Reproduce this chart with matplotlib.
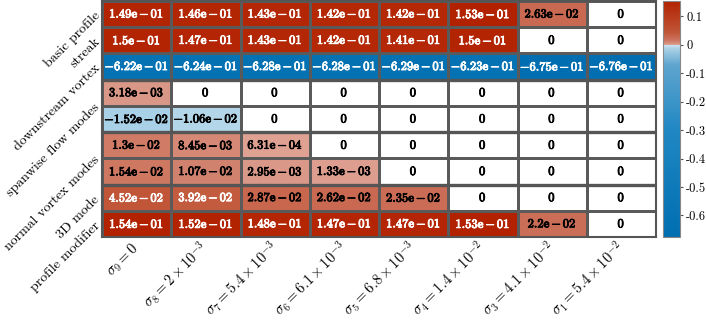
import numpy as np
import matplotlib
matplotlib.use("Agg")
import matplotlib.pyplot as plt
import matplotlib.patheffects as pe
from matplotlib.colors import LinearSegmentedColormap, Normalize

plt.rcParams['mathtext.fontset'] = 'cm'
plt.rcParams['axes.unicode_minus'] = False

# ---------------- data ----------------
col_labels = [r"$\sigma_9 = 0$", r"$\sigma_8 = 2\times10^{-3}$", r"$\sigma_7 = 5.4\times10^{-3}$",
              r"$\sigma_6 = 6.1\times10^{-3}$", r"$\sigma_5 = 6.8\times10^{-3}$",
              r"$\sigma_4 = 1.4\times10^{-2}$", r"$\sigma_3 = 4.1\times10^{-2}$",
              r"$\sigma_1 = 5.4\times10^{-2}$"]

# group labels and the number of rows each spans
group_labels = ["basic profile", "streak", "downstream vortex", "spanwise flow modes",
                "normal vortex modes", "3D mode", "profile modifier"]
group_sizes = [1, 1, 1, 2, 2, 1, 1]
thick_after = [3, 5, 7]   # thick separators after these rows

row_basic = [1.49e-01, 1.46e-01, 1.43e-01, 1.42e-01, 1.42e-01, 1.53e-01, 2.63e-02, 0]
row_streak = [1.5e-01, 1.47e-01, 1.43e-01, 1.42e-01, 1.41e-01, 1.5e-01, 0, 0]
row_vortex = [-6.22e-01, -6.24e-01, -6.28e-01, -6.28e-01, -6.29e-01, -6.23e-01, -6.75e-01, -6.76e-01]
row_span1 = [3.18e-03, 0, 0, 0, 0, 0, 0, 0]
row_span2 = [-1.52e-02, -1.06e-02, 0, 0, 0, 0, 0, 0]
row_norm1 = [1.3e-02, 8.45e-03, 6.31e-04, 0, 0, 0, 0, 0]
row_norm2 = [1.54e-02, 1.07e-02, 2.95e-03, 1.33e-03, 0, 0, 0, 0]
row_3d = [4.52e-02, 3.92e-02, 2.87e-02, 2.62e-02, 2.35e-02, 0, 0, 0]
row_mod = [1.54e-01, 1.52e-01, 1.48e-01, 1.47e-01, 1.47e-01, 1.53e-01, 2.2e-02, 0]

data = np.array([row_basic, row_streak, row_vortex, row_span1, row_span2,
                 row_norm1, row_norm2, row_3d, row_mod])

cbar_ticks = [0.1, 0, -0.1, -0.2, -0.3, -0.4, -0.5, -0.6]

# ---------------- colormap ----------------
vmin, vmax = data.min(), data.max()
def pos(v):
    return (v - vmin) / (vmax - vmin)

eps = 0.0002
nodes = [
    (0.0, (0, 110, 176)),
    (pos(-0.3), (32, 135, 195)),
    (pos(-0.07), (95, 165, 207)),
    (pos(-0.015), (168, 208, 230)),
    (pos(0) - 2 * eps, (205, 228, 241)),
    (pos(0) - eps, (255, 255, 255)),
    (pos(0) + eps, (255, 255, 255)),
    (pos(0) + 2 * eps, (224, 162, 148)),
    (pos(0.003), (217, 152, 136)),
    (pos(0.013), (207, 123, 102)),
    (pos(0.026), (201, 105, 82)),
    (pos(0.045), (192, 85, 55)),
    (1.0, (178, 34, 0)),
]
cmap = LinearSegmentedColormap.from_list(
    "custom", [(p, tuple(c / 255 for c in col)) for p, col in nodes], N=8192)
norm = Normalize(vmin=vmin, vmax=vmax)

# ---------------- figure ----------------
fig = plt.figure(figsize=(7.06, 3.2), dpi=100)
ax = fig.add_axes([102 / 706, 83 / 320, 554 / 706, 236 / 320])
cax = fig.add_axes([663 / 706, 83 / 320, 17 / 706, 236 / 320])

nrows, ncols = data.shape
mesh = ax.pcolormesh(np.arange(ncols + 1), np.arange(nrows + 1), data,
                     cmap=cmap, norm=norm, edgecolors='#5a5a5a', linewidth=0.8)
ax.set_xlim(0, ncols)
ax.set_ylim(nrows, 0)

for r in thick_after:
    ax.axhline(r, color='#555555', lw=2.4)

def fmt(v):
    if v == 0:
        return r"$\mathbf{0}$"
    s = f"{v:.2e}"
    mant, ex = s.split("e")
    mant = mant.rstrip("0").rstrip(".")
    sign = "{-}" if ex[0] == "-" else "{+}"
    return r"$\mathbf{" + mant + r"e}\,\mathbf{" + sign + r"}\,\mathbf{" + ex[1:] + "}$"

for i in range(nrows):
    for j in range(ncols):
        v = data[i, j]
        rgb = cmap(norm(v))[:3]
        lum = 0.299 * rgb[0] + 0.587 * rgb[1] + 0.114 * rgb[2]
        c = 'white' if lum < 0.5 else 'black'
        ax.text(j + 0.5, i + 0.5, fmt(v), ha='center', va='center',
                fontsize=9, color=c,
                path_effects=[pe.withStroke(linewidth=0.6, foreground=c)])

# tick labels
ax.set_xticks(np.arange(ncols) + 0.5)
ax.set_xticklabels(col_labels, rotation=45, ha='right', va='center',
                   rotation_mode='anchor', fontsize=10.5)
centers = np.cumsum(group_sizes) - np.array(group_sizes) / 2
ax.set_yticks(centers)
ax.set_yticklabels(group_labels, rotation=45, ha='right', va='center',
                   rotation_mode='anchor', fontsize=10, family='cmr10')
ax.tick_params(length=0, pad=3)
ax.tick_params(axis='x', pad=6)
for s in ax.spines.values():
    s.set_color('#555555')
    s.set_linewidth(1.5)

# colorbar
cb = fig.colorbar(mesh, cax=cax)
cb.set_ticks(cbar_ticks)
cb.set_ticklabels([f"{t:g}" for t in cbar_ticks])
for t in cax.get_yticklabels():
    t.set_family('cmr10')
    t.set_fontsize(9)
cax.tick_params(length=2.5, color='#555555', width=0.8, pad=2)
cb.outline.set_edgecolor('#888888')

fig.savefig("out.png", dpi=100)
